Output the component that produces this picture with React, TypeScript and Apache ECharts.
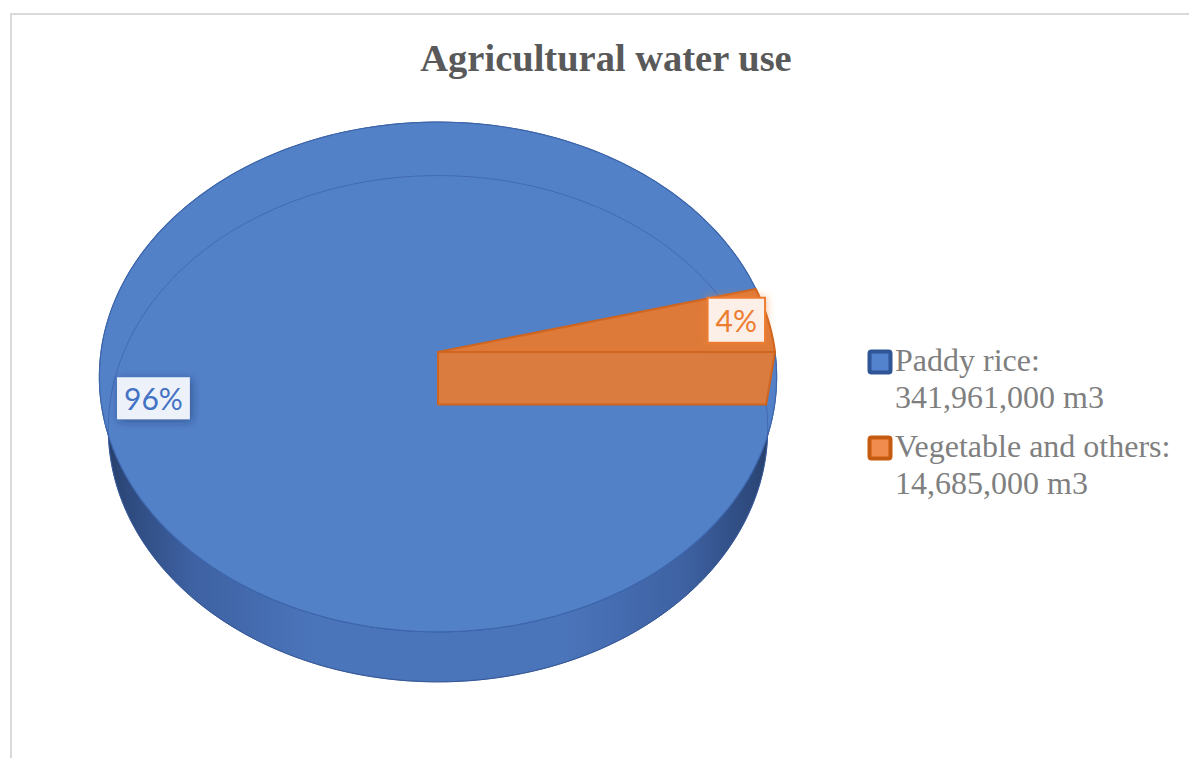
import React, { useEffect, useRef } from "react";
import * as echarts from "echarts";

// ---------- data ----------
const TITLE = "Agricultural water use";
const categories = ["Paddy rice", "Vegetable and others"];
const volumes = [341961000, 14685000];
const unitLabel = "m3";

// ---------- style ----------
const topColors = ["#5381C7", "#DE7A39"];
const edgeColors = ["#3D66AD", "#D0651F"];
const faceColors = ["#4A74BC", "#DA7B40"];
const legendBorder = ["#2F5597", "#C55A11"];
const legendFill = ["#5283CC", "#F08C4E"];
const labelColors = ["#4472C4", "#ED7D31"];
const labelBg = ["#EDF2FA", "#FBEFE7"];
const labelNudge = [[6, 18], [14, -4]];

// 3D pie projection (perspective) parameters
const CX = 438;
const CY = 352;
const K = 337;
const SIN_E = 0.749;
const COS_E = 0.662;
const PR = 0.148;
const DEPTH = 0.242;
const START_ANGLE = 0; // degrees, math convention; slices run clockwise

const total = volumes.reduce((a, b) => a + b, 0);
const cumStart: number[] = [];
volumes.reduce((acc, v, i) => {
  cumStart[i] = acc;
  return acc + v;
}, 0);

function proj(u: number, v: number, w: number): number[] {
  const d = 1 + PR * (v * COS_E - w * SIN_E);
  return [CX + (K * u) / d, CY - (K * (v * SIN_E + w * COS_E)) / d];
}

function rim(a0: number, a1: number, w: number, r = 1): number[][] {
  const n = Math.max(2, Math.ceil(Math.abs(a1 - a0) / 1.5));
  const pts: number[][] = [];
  for (let k = 0; k <= n; k++) {
    const a = ((a0 + ((a1 - a0) * k) / n) * Math.PI) / 180;
    pts.push(proj(r * Math.cos(a), r * Math.sin(a), w));
  }
  return pts;
}

function radialFace(aDeg: number): number[][] {
  const a = (aDeg * Math.PI) / 180;
  const c = Math.cos(a);
  const s = Math.sin(a);
  return [proj(0, 0, 0), proj(c, s, 0), proj(c, s, -DEPTH), proj(0, 0, -DEPTH)];
}

const sideGradient = () =>
  new echarts.graphic.LinearGradient(
    100,
    0,
    777,
    0,
    [
      { offset: 0, color: "#243A63" },
      { offset: 0.04, color: "#2E4A7E" },
      { offset: 0.14, color: "#3E62A3" },
      { offset: 0.32, color: "#4B75BB" },
      { offset: 0.68, color: "#4B75BB" },
      { offset: 0.86, color: "#3E62A3" },
      { offset: 0.96, color: "#2E4A7E" },
      { offset: 1, color: "#243A63" },
    ],
    true
  );

function renderSlice(params: any, api: any) {
  const i = params.dataIndex;
  const val = api.value(0) as number;
  const a0 = START_ANGLE - (cumStart[i] / total) * 360;
  const a1 = a0 - (val / total) * 360;
  const base = i * 10;
  const children: any[] = [];

  // outer side wall
  const sidePts = rim(a0, a1, 0).concat(rim(a1, a0, -DEPTH));
  children.push({
    type: "polygon",
    z2: base + 1,
    shape: { points: sidePts },
    style: {
      fill: i === 0 ? sideGradient() : faceColors[i],
      stroke: i === 0 ? "#35558F" : edgeColors[i],
      lineWidth: 1,
    },
  });

  // radial faces facing the viewer
  const faces: number[][][] = [];
  if (Math.cos((a0 * Math.PI) / 180) < 0) faces.push(radialFace(a0));
  if (Math.cos((a1 * Math.PI) / 180) > 0) faces.push(radialFace(a1));

  // top face
  const topPts = [proj(0, 0, 0)].concat(rim(a0, a1, 0));
  if (i === 0) {
    faces.forEach((f) =>
      children.push({
        type: "polygon",
        z2: base + 2,
        shape: { points: f },
        style: { fill: faceColors[i], stroke: edgeColors[i], lineWidth: 1 },
      })
    );
    children.push({
      type: "polygon",
      z2: base + 3,
      shape: { points: topPts },
      style: { fill: topColors[i], stroke: edgeColors[i], lineWidth: 1.2 },
    });
    // faint hidden base outline showing through
    children.push({
      type: "polyline",
      z2: base + 4,
      shape: { points: rim(0, 360, -DEPTH) },
      style: { fill: "none", stroke: "rgba(52,88,160,0.55)", lineWidth: 1 },
    });
  } else {
    children.push({
      type: "polygon",
      z2: base + 3,
      shape: { points: topPts },
      style: {
        fill: topColors[i],
        stroke: edgeColors[i],
        lineWidth: 2,
        lineJoin: "round",
      },
    });
    faces.forEach((f) =>
      children.push({
        type: "polygon",
        z2: base + 4,
        shape: { points: f },
        style: {
          fill: faceColors[i],
          stroke: edgeColors[i],
          lineWidth: 2,
          lineJoin: "round",
        },
      })
    );
  }

  // data label
  const mid = (((a0 + a1) / 2) * Math.PI) / 180;
  const lp = proj(0.86 * Math.cos(mid), 0.86 * Math.sin(mid), 0);
  const pct = Math.round((val / total) * 100) + "%";
  children.push({
    type: "text",
    z2: 100 + i,
    x: lp[0] + labelNudge[i][0],
    y: lp[1] + labelNudge[i][1],
    style: {
      text: pct,
      align: "center",
      verticalAlign: "middle",
      font: "30px Lato, 'Open Sans', sans-serif",
      fill: labelColors[i],
      backgroundColor: labelBg[i],
      borderColor: i === 0 ? "transparent" : labelColors[i],
      borderWidth: i === 0 ? 0 : 2,
      padding: i === 0 ? [7, 7, 5, 7] : [7, 7, 6, 7],
      shadowColor: i === 0 ? "rgba(20,40,90,0.45)" : "rgba(237,125,49,0.55)",
      shadowBlur: 8,
      shadowOffsetX: i === 0 ? 2 : 0,
      shadowOffsetY: i === 0 ? 2 : 0,
    },
  });

  return { type: "group", children };
}

const SERIF = "'Liberation Serif', 'Times New Roman', serif";

function legendGraphics() {
  const out: any[] = [];
  categories.forEach((c, i) => {
    const baseY = 372 + i * 86;
    out.push({
      type: "rect",
      shape: { x: 869.5, y: baseY - 20.5, width: 21, height: 21, r: 2 },
      style: { fill: legendFill[i], stroke: legendBorder[i], lineWidth: 4 },
    });
    out.push({
      type: "text",
      x: 895,
      y: baseY - 12,
      style: {
        text: c + ":",
        font: `32px ${SERIF}`,
        fill: "#7F7F7F",
        verticalAlign: "middle",
        align: "left",
      },
    });
    out.push({
      type: "text",
      x: 895,
      y: baseY + 37 - 12,
      style: {
        text: volumes[i].toLocaleString("en-US") + " " + unitLabel,
        font: `32px ${SERIF}`,
        fill: "#7F7F7F",
        verticalAlign: "middle",
        align: "left",
      },
    });
  });
  return out;
}

export default function App() {
  const ref = useRef<HTMLDivElement>(null);
  useEffect(() => {
    if (!ref.current) return;
    const chart = echarts.init(ref.current, null, { renderer: "svg" });
    chart.setOption({
      animation: false,
      backgroundColor: "#ffffff",
      title: {
        text: TITLE,
        left: 601,
        textAlign: "center",
        top: 33,
        textStyle: {
          fontFamily: SERIF,
          fontWeight: "bold",
          fontSize: 38.5,
          color: "#595959",
        },
      },
      graphic: [
        {
          type: "rect",
          shape: { x: 11, y: 14, width: 1200, height: 800 },
          style: { fill: "none", stroke: "#D9D9D9", lineWidth: 2 },
          silent: true,
        },
        ...legendGraphics(),
      ],
      series: [
        {
          type: "custom",
          coordinateSystem: "none",
          silent: true,
          data: categories.map((c, i) => ({ name: c, value: volumes[i] })),
          renderItem: renderSlice,
        },
      ],
    });
    return () => chart.dispose();
  }, []);
  return (
    <div
      ref={ref}
      style={{ position: "fixed", left: 0, top: 0, width: 1189, height: 758, background: "#fff" }}
    />
  );
}
